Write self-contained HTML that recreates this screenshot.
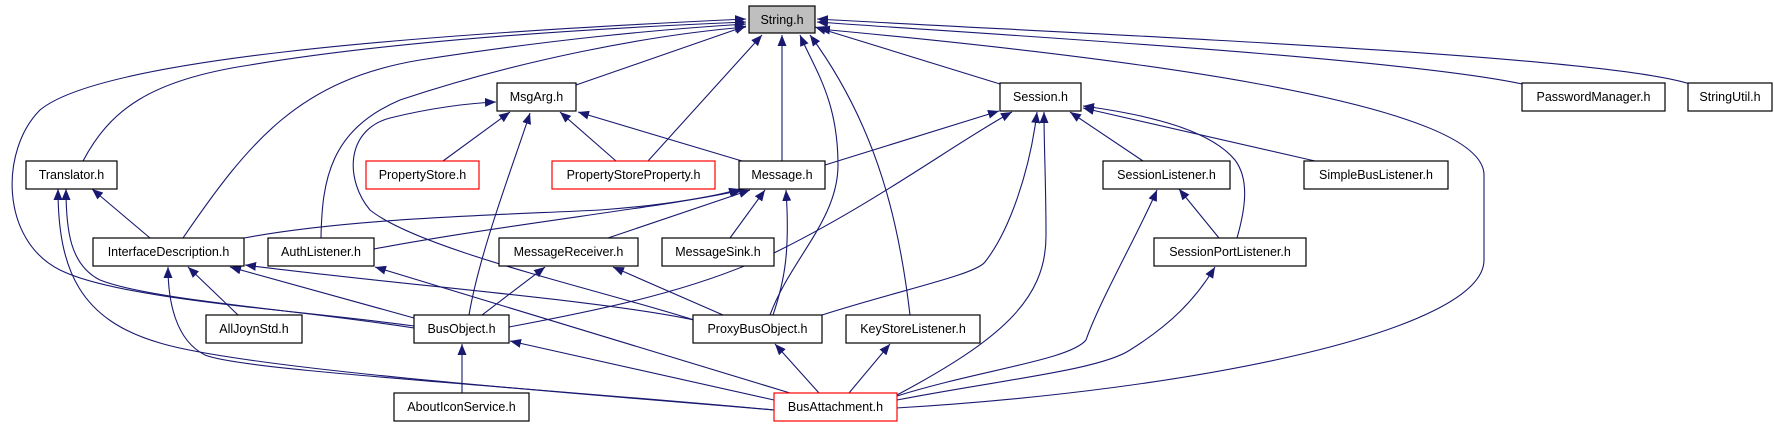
<!DOCTYPE html>
<html><head><meta charset="utf-8"><style>
html,body{margin:0;padding:0;background:#fff;}
svg{display:block;}
text{font-family:"Liberation Sans",sans-serif;font-size:12.5px;fill:#000;}
</style></head><body>
<svg width="1774" height="427" viewBox="0 0 1774 427" xmlns="http://www.w3.org/2000/svg">
<defs>
<marker id="a" markerUnits="userSpaceOnUse" markerWidth="12" markerHeight="10" refX="11" refY="4.5" orient="auto">
<path d="M0,0 L11,4.5 L0,9 Z" fill="#191970"/>
</marker>
</defs>
<g fill="none" stroke="#191970" stroke-width="1.1" marker-end="url(#a)">
<!-- to String.h -->
<path d="M576,85 L746,26"/>
<path d="M1000,84 L815,27"/>
<path d="M1522,84 C1400,58 1000,35 817,22"/>
<path d="M1690,84 C1600,55 1100,35 817,19"/>
<path d="M896,408 C1200,390 1484,330 1484,260 L1484,175 C1484,100 1100,55 819,29"/>
<path d="M83,161 C110,110 150,80 250,65 C400,40 600,28 746,22"/>
<path d="M414,326 C300,310 120,300 60,270 C0,240 0,150 40,110 C100,60 400,35 746,19"/>
<path d="M183,238 C250,140 300,80 420,60 C550,40 650,30 746,24"/>
<path d="M321,238 C322,180 330,130 400,100 C520,60 650,35 746,27"/>
<path d="M648,161 L762,35"/>
<path d="M782,161 L782,35"/>
<path d="M770,315 C790,260 838,220 838,165 C838,100 815,70 800,35"/>
<path d="M910,315 C900,230 880,130 810,35"/>
<!-- to MsgArg.h -->
<path d="M443,161 L510,112"/>
<path d="M616,161 L560,112"/>
<path d="M742,161 L578,112"/>
<path d="M469,315 C480,250 515,160 530,113"/>
<path d="M694,320 C600,290 420,250 370,210 C345,180 345,130 390,118 C430,108 470,103 496,102"/>
<!-- to Session.h -->
<path d="M825,165 L999,111"/>
<path d="M1143,161 L1070,112"/>
<path d="M1315,161 L1083,108"/>
<path d="M1237,238 C1245,210 1250,180 1235,160 C1210,130 1150,115 1083,106"/>
<path d="M509,327 C600,310 700,290 780,250 C880,200 960,140 1012,112"/>
<path d="M822,315 C900,290 975,275 985,262 C1010,230 1030,170 1037,112"/>
<path d="M897,395 C1000,340 1046,300 1046,236 C1046,180 1044,150 1044,112"/>
<!-- to Translator.h -->
<path d="M150,238 L92,189"/>
<path d="M414,328 C300,310 150,300 100,280 C70,265 66,230 66,189"/>
<path d="M774,410 C600,395 250,370 160,343 C80,320 58,270 58,189"/>
<!-- to Message.h -->
<path d="M244,238 C350,218 500,215 600,210 C670,205 720,195 740,189"/>
<path d="M374,249 C500,225 680,205 742,190"/>
<path d="M608,238 L750,190"/>
<path d="M730,238 L765,190"/>
<path d="M773,315 C785,280 790,250 786,190"/>
<!-- to InterfaceDescription.h -->
<path d="M238,315 L188,267"/>
<path d="M414,318 L230,267"/>
<path d="M694,320 C600,300 400,285 245,265"/>
<path d="M774,410 C500,385 240,370 205,355 C175,340 168,300 168,267"/>
<!-- others -->
<path d="M790,393 L375,267"/>
<path d="M482,315 L545,267"/>
<path d="M723,315 L613,267"/>
<path d="M1219,238 L1179,189"/>
<path d="M897,396 C980,370 1070,360 1086,340 C1100,300 1140,230 1157,190"/>
<path d="M897,400 C1000,380 1100,370 1130,350 C1170,325 1195,300 1215,267"/>
<path d="M462,393 L462,344"/>
<path d="M774,400 L510,341"/>
<path d="M819,393 L775,344"/>
<path d="M849,393 L890,344"/>
</g>
<g stroke-width="1.2" stroke="#000">
<rect x="749" y="6" width="66" height="27" fill="#bfbfbf"/>
<rect x="497" y="83" width="79" height="28" fill="#fff"/>
<rect x="1000" y="83" width="81" height="28" fill="#fff"/>
<rect x="1522" y="83" width="143" height="28" fill="#fff"/>
<rect x="1688" y="83" width="84" height="28" fill="#fff"/>
<rect x="26" y="161" width="91" height="28" fill="#fff"/>
<rect x="366" y="161" width="113" height="28" fill="#fff" stroke="#f00"/>
<rect x="552" y="161" width="163" height="28" fill="#fff" stroke="#f00"/>
<rect x="739" y="161" width="86" height="28" fill="#fff"/>
<rect x="1103" y="161" width="127" height="28" fill="#fff"/>
<rect x="1304" y="161" width="144" height="28" fill="#fff"/>
<rect x="93" y="238" width="151" height="28" fill="#fff"/>
<rect x="268" y="238" width="106" height="28" fill="#fff"/>
<rect x="499" y="238" width="139" height="28" fill="#fff"/>
<rect x="662" y="238" width="112" height="28" fill="#fff"/>
<rect x="1154" y="238" width="152" height="28" fill="#fff"/>
<rect x="206" y="315" width="96" height="28" fill="#fff"/>
<rect x="414" y="315" width="95" height="28" fill="#fff"/>
<rect x="693" y="315" width="129" height="28" fill="#fff"/>
<rect x="846" y="315" width="134" height="28" fill="#fff"/>
<rect x="394" y="393" width="135" height="28" fill="#fff"/>
<rect x="774" y="393" width="123" height="28" fill="#fff" stroke="#f00"/>
</g>
<g text-anchor="middle">
<text x="782" y="24">String.h</text>
<text x="536.5" y="101">MsgArg.h</text>
<text x="1040.5" y="101">Session.h</text>
<text x="1593.5" y="101">PasswordManager.h</text>
<text x="1730" y="101">StringUtil.h</text>
<text x="71.5" y="179">Translator.h</text>
<text x="422.5" y="179">PropertyStore.h</text>
<text x="633.5" y="179">PropertyStoreProperty.h</text>
<text x="782" y="179">Message.h</text>
<text x="1166.5" y="179">SessionListener.h</text>
<text x="1376" y="179">SimpleBusListener.h</text>
<text x="168.5" y="256">InterfaceDescription.h</text>
<text x="321" y="256">AuthListener.h</text>
<text x="568.5" y="256">MessageReceiver.h</text>
<text x="718" y="256">MessageSink.h</text>
<text x="1230" y="256">SessionPortListener.h</text>
<text x="254" y="333">AllJoynStd.h</text>
<text x="461.5" y="333">BusObject.h</text>
<text x="757.5" y="333">ProxyBusObject.h</text>
<text x="913" y="333">KeyStoreListener.h</text>
<text x="461.5" y="411">AboutIconService.h</text>
<text x="835.5" y="411">BusAttachment.h</text>
</g>
</svg>
</body></html>
